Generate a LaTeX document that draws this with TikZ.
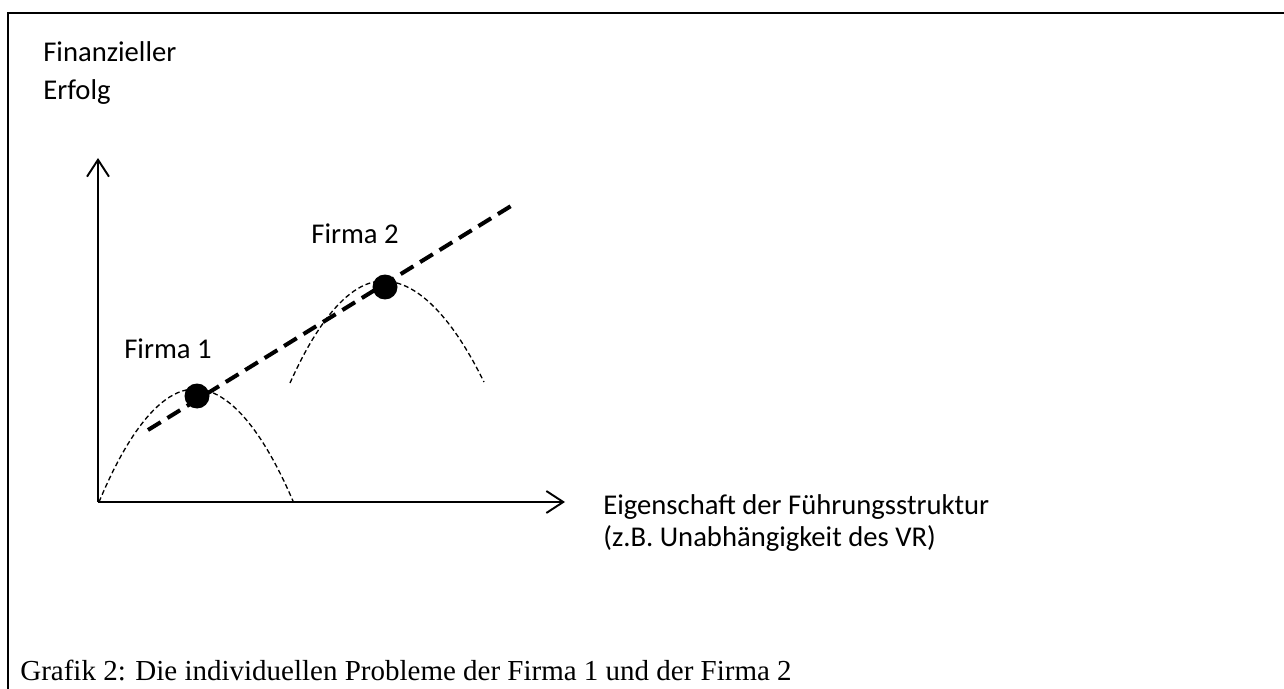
\documentclass[tikz,border=0pt]{standalone}
\usepackage{fontspec}
\setmainfont{Carlito}
\newfontfamily\captionfont{Liberation Serif}
\usetikzlibrary{arrows.meta}

\begin{document}
\begin{tikzpicture}[x=0.02cm, y=-0.02cm,
  lbl/.style={anchor=base west, inner sep=0, font=\fontsize{16.3}{19}\selectfont},
  axis/.style={line width=1.1pt, -{Straight Barb[length=9.6pt,width=12.5pt]}},
  curve/.style={line width=0.75pt, dash pattern=on 2.8pt off 1.7pt},
  trend/.style={line width=2.3pt, dash pattern=on 8.5pt off 4.5pt},
  dot/.style={circle, fill=black, inner sep=0, minimum size=0.5cm}
]
\useasboundingbox (0,0) rectangle (1284,689);
\draw[line width=1.5pt] (8,689) -- (8,13) -- (1284,13);

% axes
\coordinate (origin) at (98,502);
\coordinate (ytip) at (98,158);
\coordinate (xtip) at (565,502);
\draw[axis] (origin) -- (ytip);
\draw[axis] (origin) -- (xtip);

\node[lbl] (ylabel1) at (43,62) {Finanzieller};
\node[lbl] (ylabel2) at (43,100) {Erfolg};
\node[lbl] (xlabel1) at (603,514) {Eigenschaft der Führungsstruktur};
\node[lbl] (xlabel2) at (603,546) {(z.B. Unabhängigkeit des VR)};

% firm curves
\coordinate (f1a) at (99,502);
\coordinate (f1top) at (195,389);
\coordinate (f1b) at (293,501);
\coordinate (f2a) at (290,383);
\coordinate (f2top) at (383,281);
\coordinate (f2b) at (484,382);
\draw[curve] (f1a) parabola bend (f1top) (f1b);
\draw[curve] (f2a) parabola bend (f2top) (f2b);

\coordinate (trendstart) at (148,430);
\coordinate (trendend) at (511,206);
\draw[trend] (trendstart) -- (trendend);

\node[dot] (dot1) at (197,396) {};
\node[dot] (dot2) at (385,287) {};
\node[lbl] (firma1) at (124,358) {Firma 1};
\node[lbl] (firma2) at (311,243) {Firma 2};

\node[anchor=base west, inner sep=0, font=\captionfont\fontsize{16.5}{19}\selectfont] (caption) at (20,680)
  {Grafik 2: Die individuellen Probleme der Firma 1 und der Firma 2};
\end{tikzpicture}
\end{document}
